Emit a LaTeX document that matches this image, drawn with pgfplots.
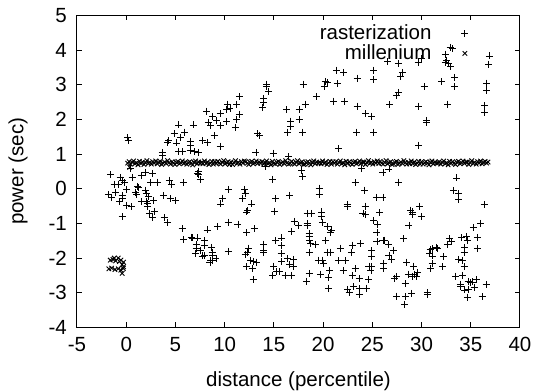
\documentclass[border=0pt]{standalone}
\usepackage{fontspec}
\setmainfont{Liberation Sans}
\usepackage{pgfplots}
\pgfplotsset{compat=1.18}
\begin{document}
\fontsize{10.25}{12}\selectfont
\begin{tikzpicture}
\begin{axis}[
  scale only axis, width=221.5pt, height=156pt,
  xmin=-5, xmax=40, ymin=-4, ymax=5,
  xtick={-5,0,5,10,15,20,25,30,35,40},
  ytick={-4,-3,-2,-1,0,1,2,3,4,5},
  tick align=inside, major tick length=2.5pt,
  xtick pos=both, ytick pos=both,
  xticklabel pos=bottom, yticklabel pos=left,
  axis line style={line width=0.5pt},
  tick style={line width=0.5pt,black},
  /pgf/number format/assume math mode=true,
  xticklabel style={yshift=-1.5pt},
  yticklabel style={xshift=-1.5pt},
  xlabel={distance (percentile)}, ylabel={power (sec)},
  xlabel style={at={(axis description cs:0.5,-0.172)},anchor=center},
  ylabel style={at={(axis description cs:-0.133,0.5)},anchor=center},
  legend plot pos=right, legend cell align=right,
  legend image code/.code={\path (0cm,0cm); \draw[mark repeat=2,mark phase=2,#1] plot coordinates {(0cm,0cm) (16pt,0cm) (32pt,0cm)};},
  legend style={draw=none, fill=none, at={(axis description cs:0.898,0.988)}, anchor=north east, row sep=0pt, nodes={inner sep=0.5pt}},
]
\addplot[only marks, mark=+, mark size=1.75pt, line width=0.45pt, black] coordinates {
(0.15,1.47) (0.20,1.40) (5.34,1.84) (4.86,1.59) (5.54,1.49) (4.32,1.38) (4.18,1.34) (5.14,1.32) (5.95,1.63) (5.34,1.07)
(5.68,1.07) (3.64,1.05) (3.70,0.95) (0.44,0.59) (2.00,0.48) (2.63,0.44) (-1.58,0.40)
(6.82,1.84) (6.49,1.36) (6.55,1.26) (6.49,1.11) (6.89,1.07) (7.36,1.05) (7.77,1.38) (8.24,1.34) (8.18,2.24) (8.31,1.92)
(8.58,1.82) (8.78,2.09) (9.19,1.97) (9.53,2.17) (9.53,1.82) (8.92,1.53) (9.53,1.22) (10.20,1.94) (10.20,2.30) (10.54,2.32)
(10.27,2.44) (11.22,2.44) (11.55,2.65) (11.49,2.15) (11.22,2.01) (11.08,1.76) (14.26,3.02) (14.26,2.94) (14.46,2.80) (13.99,2.61)
(13.99,2.49) (13.85,2.34) (13.38,1.59) (13.58,1.55) (13.18,1.05) (14.93,1.03) (16.28,2.28) (16.69,1.95) (16.69,1.80) (16.42,1.63)
(16.49,0.93) (7.36,0.51) (7.23,0.45) (14.14,0.63)
(17.97,3.02) (17.57,2.30) (18.18,2.44) (17.57,1.99) (17.91,1.63) (19.32,2.65) (20.20,3.09) (20.40,3.07) (20.14,2.94) (21.42,3.03)
(21.35,3.42) (22.10,3.36) (21.08,2.53) (22.16,2.51) (23.45,3.19) (23.45,2.38) (24.32,2.17) (24.93,2.09) (23.38,1.63) (25.14,1.63)
(25.14,3.42) (25.14,3.15) (26.55,3.67) (27.64,3.61) (28.04,3.36) (27.90,3.25) (27.64,2.78) (27.50,2.69) (26.76,2.42) (21.55,1.16)
(17.84,0.53) (23.92,0.59) (26.08,0.47) (26.69,0.57)
(32.90,4.08) (33.18,4.04) (32.43,3.88) (32.57,3.71) (32.43,3.65) (32.77,3.61) (32.97,3.52) (29.66,3.63) (30.00,3.75) (30.27,2.94)
(32.03,3.09) (33.38,3.21) (33.38,2.94) (29.73,2.38) (30.54,1.97) (30.54,1.92) (32.64,2.44) (29.73,1.26) (36.89,3.83) (36.82,3.59)
(36.62,3.05) (36.62,2.84) (36.42,2.40) (36.42,2.21)
(-0.61,0.33) (0.61,0.33) (-1.22,0.13) (-0.74,0.13) (-0.20,0.17) (0.07,-0.02) (1.55,0.38) (2.50,0.17) (3.18,0.19) (1.15,0.06)
(4.39,0.25) (4.59,0.12) (5.81,0.17) (-1.82,-0.17) (-1.49,-0.25) (-1.08,-0.12) (-0.41,-0.19) (-0.68,-0.38) (-0.41,-0.29) (0.07,-0.48)
(0.54,-0.52) (-0.41,-0.81) (0.95,-0.10) (1.08,-0.17) (1.28,0.04) (1.55,-0.38) (2.03,-0.38) (1.96,-0.04) (2.03,-0.15) (2.30,-0.23)
(2.16,-0.42) (2.16,-0.52) (2.77,-0.35) (2.36,-0.71) (2.70,-0.83) (2.84,-0.65) (3.78,-0.19) (4.46,-0.29) (5.00,-0.35) (3.85,-0.83)
(4.19,-0.96) (5.68,-1.15) (5.85,-1.47) (-0.40,0.25)
(7.36,0.40) (7.50,0.27) (10.34,-0.02) (9.80,-0.27) (9.59,-0.44) (12.03,-0.02) (12.09,-0.13) (11.82,-0.27) (12.77,-0.44) (12.30,-0.63)
(12.23,-0.67) (14.86,0.27) (15.14,-0.29) (15.07,-0.65) (16.62,-0.19) (17.05,-0.94) (16.82,-1.23) (6.62,-1.40) (6.76,-1.42) (7.23,-1.42)
(8.23,-1.19) (9.28,-1.10) (10.34,-0.96) (11.35,-1.02) (12.23,-1.27) (13.00,-1.15) (7.97,-1.50) (7.91,-1.63) (7.09,-1.62) (7.09,-1.73)
(7.50,-1.79) (7.03,-1.87) (7.70,-1.94) (7.97,-1.92) (8.65,-1.69) (8.72,-1.85) (8.72,-1.92) (9.12,-2.02) (8.58,-2.08) (8.51,-2.13)
(8.72,-2.06) (10.34,-1.81) (12.43,-1.71) (12.36,-1.85) (12.09,-1.90) (12.63,-2.06) (12.97,-2.10) (13.24,-2.12) (12.23,-2.25) (12.84,-2.31)
(12.90,-2.62) (13.99,-1.60) (13.99,-1.77) (13.99,-1.83) (15.14,-1.50) (15.81,-1.42) (15.81,-1.65) (15.74,-1.87) (15.81,-2.10) (16.35,-2.02)
(17.03,-2.04) (16.62,-2.19) (17.03,-2.25) (15.00,-2.23) (15.27,-2.40) (15.61,-2.40) (14.86,-2.50) (16.15,-2.50) (16.82,-2.50)
(17.91,0.35) (19.59,0.02) (19.59,-0.17) (23.24,0.17) (24.19,-0.04) (27.64,0.19) (25.41,-0.25) (26.08,-0.25) (22.43,-0.46) (22.50,-0.52)
(24.26,-0.50) (24.05,-0.71) (24.32,-0.73) (25.74,-0.69) (25.14,-0.92) (25.54,-1.02) (25.47,-1.27) (25.47,-1.52) (26.08,-1.50) (26.28,-1.48)
(26.62,-1.60) (27.16,-1.77) (26.69,-1.92) (26.96,-2.04) (26.15,-2.15) (26.15,-2.31) (28.18,-1.44) (27.23,-2.58) (27.50,-2.54) (27.50,-3.10)
(18.38,-0.71) (18.78,-0.71) (17.50,-1.06) (18.38,-1.00) (18.38,-1.06) (19.86,-0.67) (19.86,-0.81) (19.93,-0.98) (20.41,-1.10) (20.81,-1.19)
(20.74,-1.25) (18.58,-1.29) (18.58,-1.37) (18.65,-1.48) (18.72,-1.58) (19.19,-1.60) (20.27,-1.50) (18.58,-1.83) (20.41,-1.83) (20.74,-1.83)
(21.76,-1.71) (22.97,-1.63) (23.78,-1.58) (22.90,-1.85) (24.93,-1.79) (24.93,-1.96) (19.53,-2.06) (19.93,-2.06) (20.07,-2.15) (21.55,-2.08)
(22.23,-2.08) (24.66,-2.23) (24.93,-2.25) (24.86,-2.35) (18.58,-2.44) (19.73,-2.46) (20.68,-2.35) (20.54,-2.56) (22.03,-2.37) (23.24,-2.31)
(22.97,-2.50) (23.65,-2.60) (24.59,-2.63) (18.31,-2.67) (20.54,-2.87) (22.50,-2.90) (22.64,-2.98) (23.11,-2.83) (23.72,-2.88) (23.65,-3.04)
(24.39,-2.87) (28.34,-2.74) (28.30,-3.35) (28.35,-3.12)
(28.50,-2.12) (28.72,-1.06) (29.80,-0.50) (30.00,-0.81) (28.92,-0.62) (29.05,-0.67) (29.12,-0.73) (29.19,-2.23) (28.65,-2.46) (29.32,-2.46)
(29.60,-2.42) (29.46,-2.52) (29.12,-2.52) (28.99,-3.02) (30.61,-3.00) (30.61,-3.06) (30.88,-1.75) (31.08,-1.73) (31.55,-1.69) (31.62,-1.73)
(30.81,-1.88) (31.08,-1.94) (31.08,-2.15) (30.95,-2.31) (32.23,-1.96) (32.16,-2.25) (32.64,-1.60) (32.84,-1.44) (33.04,-1.52) (33.58,0.31)
(33.24,-0.06) (33.78,-0.15) (33.78,-0.31) (36.35,-0.46) (36.01,-1.00) (35.27,-1.12) (34.05,-1.41) (34.59,-1.38) (34.66,-1.50) (35.68,-1.41)
(35.68,-1.71) (34.39,-1.69) (34.32,-1.85) (33.78,-2.04) (34.19,-2.08) (34.32,-2.25) (33.45,-2.52) (34.19,-2.50) (34.73,-2.67) (35.00,-2.71)
(35.20,-2.69) (35.61,-2.62) (33.92,-2.75) (33.99,-2.81) (34.32,-2.92) (34.80,-2.90) (35.34,-2.85) (34.66,-3.13) (36.55,-2.77) (36.15,-3.12)
};
\addlegendentry{rasterization}
\addplot[only marks, mark=x, mark size=1.6pt, line width=0.45pt, black] coordinates {
(-1.62,-2.06) (-1.35,-2.04) (-1.08,-2.08) (-0.81,-2.00) (-0.54,-2.06) (-0.27,-2.12) (-0.41,-2.19) (-1.76,-2.31) (-1.49,-2.29) (-1.15,-2.33)
(-0.81,-2.31) (-0.54,-2.35) (-0.41,-2.44) (-0.27,-2.25) (-1.22,-2.00) (-0.68,-2.10) (-0.30,-2.30) (0.35,0.62)
(0.15,0.74) (0.30,0.78) (0.45,0.71) (0.60,0.76) (0.75,0.80) (0.90,0.72) (1.05,0.75) (1.20,0.69) (1.35,0.79) (1.50,0.73)
(1.65,0.77) (1.80,0.70) (1.95,0.75) (2.10,0.81) (2.25,0.73) (2.40,0.76) (2.55,0.71) (2.70,0.78) (2.85,0.74) (3.00,0.80)
(3.15,0.72) (3.30,0.76) (3.45,0.79) (3.60,0.70) (3.75,0.74) (3.90,0.77) (4.05,0.73) (4.20,0.81) (4.35,0.75) (4.50,0.71)
(4.65,0.78) (4.80,0.74) (4.95,0.70) (5.10,0.76) (5.25,0.79) (5.40,0.72) (5.55,0.75) (5.70,0.80) (5.85,0.73) (6.00,0.77)
(6.15,0.71) (6.30,0.75) (6.45,0.78) (6.60,0.74) (6.75,0.69) (6.90,0.76) (7.05,0.80) (7.20,0.72) (7.35,0.77) (7.50,0.74)
(7.65,0.76) (7.80,0.72) (7.95,0.80) (8.10,0.73) (8.25,0.77) (8.40,0.70) (8.55,0.74) (8.70,0.79) (8.85,0.71) (9.00,0.78)
(9.15,0.73) (9.30,0.79) (9.45,0.74) (9.60,0.71) (9.75,0.76) (9.90,0.81) (10.05,0.72) (10.20,0.75) (10.35,0.78) (10.50,0.70)
(10.65,0.77) (10.80,0.70) (10.95,0.75) (11.10,0.81) (11.25,0.73) (11.40,0.76) (11.55,0.71) (11.70,0.78) (11.85,0.74) (12.00,0.80)
(12.15,0.78) (12.30,0.74) (12.45,0.70) (12.60,0.76) (12.75,0.79) (12.90,0.72) (13.05,0.75) (13.20,0.80) (13.35,0.73) (13.50,0.77)
(13.65,0.74) (13.80,0.78) (13.95,0.71) (14.10,0.76) (14.25,0.80) (14.40,0.72) (14.55,0.75) (14.70,0.69) (14.85,0.79) (15.00,0.73)
(15.15,0.72) (15.30,0.76) (15.45,0.79) (15.60,0.70) (15.75,0.74) (15.90,0.77) (16.05,0.73) (16.20,0.81) (16.35,0.75) (16.50,0.71)
(16.65,0.73) (16.80,0.79) (16.95,0.74) (17.10,0.71) (17.25,0.76) (17.40,0.81) (17.55,0.72) (17.70,0.75) (17.85,0.78) (18.00,0.70)
(18.15,0.71) (18.30,0.75) (18.45,0.78) (18.60,0.74) (18.75,0.69) (18.90,0.76) (19.05,0.80) (19.20,0.72) (19.35,0.77) (19.50,0.74)
(19.65,0.76) (19.80,0.72) (19.95,0.80) (20.10,0.73) (20.25,0.77) (20.40,0.70) (20.55,0.74) (20.70,0.79) (20.85,0.71) (21.00,0.78)
(21.15,0.74) (21.30,0.78) (21.45,0.71) (21.60,0.76) (21.75,0.80) (21.90,0.72) (22.05,0.75) (22.20,0.69) (22.35,0.79) (22.50,0.73)
(22.65,0.78) (22.80,0.74) (22.95,0.70) (23.10,0.76) (23.25,0.79) (23.40,0.72) (23.55,0.75) (23.70,0.80) (23.85,0.73) (24.00,0.77)
(24.15,0.77) (24.30,0.70) (24.45,0.75) (24.60,0.81) (24.75,0.73) (24.90,0.76) (25.05,0.71) (25.20,0.78) (25.35,0.74) (25.50,0.80)
(25.65,0.73) (25.80,0.79) (25.95,0.74) (26.10,0.71) (26.25,0.76) (26.40,0.81) (26.55,0.72) (26.70,0.75) (26.85,0.78) (27.00,0.70)
(27.15,0.72) (27.30,0.76) (27.45,0.79) (27.60,0.70) (27.75,0.74) (27.90,0.77) (28.05,0.73) (28.20,0.81) (28.35,0.75) (28.50,0.71)
(28.65,0.76) (28.80,0.72) (28.95,0.80) (29.10,0.73) (29.25,0.77) (29.40,0.70) (29.55,0.74) (29.70,0.79) (29.85,0.71) (30.00,0.78)
(30.15,0.71) (30.30,0.75) (30.45,0.78) (30.60,0.74) (30.75,0.69) (30.90,0.76) (31.05,0.80) (31.20,0.72) (31.35,0.77) (31.50,0.74)
(31.65,0.74) (31.80,0.78) (31.95,0.71) (32.10,0.76) (32.25,0.80) (32.40,0.72) (32.55,0.75) (32.70,0.69) (32.85,0.79) (33.00,0.73)
(33.15,0.78) (33.30,0.74) (33.45,0.70) (33.60,0.76) (33.75,0.79) (33.90,0.72) (34.05,0.75) (34.20,0.80) (34.35,0.73) (34.50,0.77)
(34.65,0.77) (34.80,0.70) (34.95,0.75) (35.10,0.81) (35.25,0.73) (35.40,0.76) (35.55,0.71) (35.70,0.78) (35.85,0.74) (36.00,0.80)
(36.15,0.72) (36.30,0.76) (36.45,0.79) (36.60,0.74) (36.75,0.77)
};
\addlegendentry{millenium}
\coordinate (bbl) at (axis description cs:-0.1738,-0.2038);
\coordinate (btr) at (axis description cs:1.0316,1.0494);
\end{axis}
\pgfresetboundingbox
\path (bbl) rectangle (btr);
\end{tikzpicture}
\end{document}
